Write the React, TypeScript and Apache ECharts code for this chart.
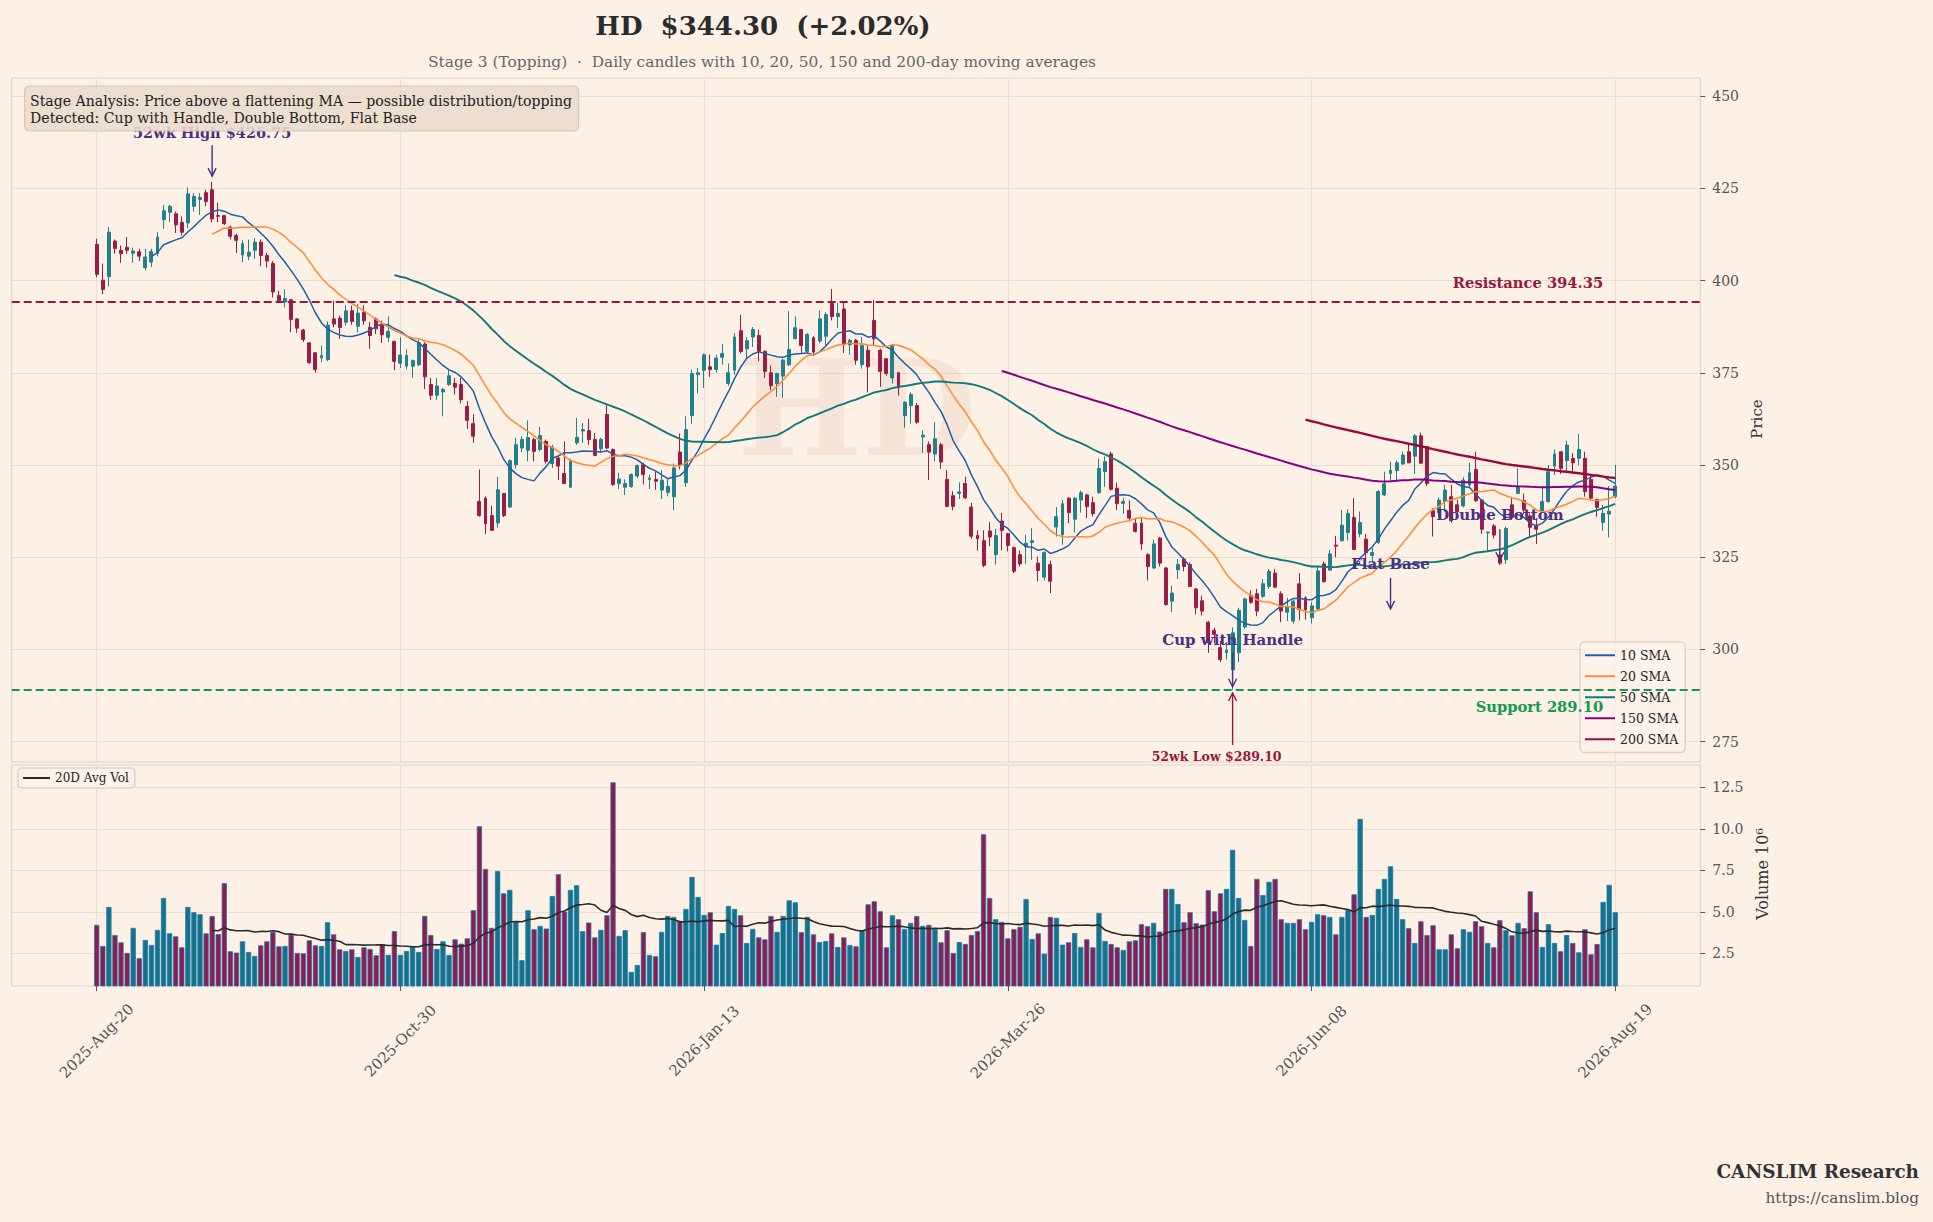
import React, { useEffect, useRef } from 'react';
import * as echarts from 'echarts';

// ---------------- DATA ----------------
const opens = [
  409.8, 400.1, 401.1, 410.7, 408.2, 409.0, 407.4, 407.8, 403.5, 405.0,
  407.3, 416.5, 418.5, 418.1, 415.8, 415.6, 420.1, 422.0, 423.8, 424.6,
  417.6, 417.6, 414.5, 412.2, 406.9, 406.6, 408.2, 410.4, 406.8, 404.6,
  395.9, 394.2, 394.8, 389.6, 386.6, 383.1, 380.4, 379.1, 378.6, 389.6,
  389.8, 388.7, 391.8, 387.6, 391.4, 387.3, 389.6, 388.2, 384.6, 383.5,
  377.6, 376.8, 376.8, 377.2, 382.8, 371.8, 368.9, 369.8, 371.8, 372.1,
  371.8, 365.9, 361.2, 340.1, 341.0, 336.3, 334.3, 342.3, 338.6, 350.1,
  354.6, 354.0, 356.9, 354.2, 356.4, 350.4, 351.9, 347.7, 344.0, 356.0,
  359.2, 359.3, 356.9, 354.4, 363.7, 354.2, 345.0, 344.0, 344.2, 347.0,
  350.1, 346.1, 346.1, 343.2, 342.6, 341.4, 353.5, 345.2, 363.4, 374.5,
  375.7, 376.6, 375.9, 379.2, 372.1, 375.7, 386.4, 381.5, 384.7, 385.1,
  380.8, 375.0, 372.1, 374.1, 377.2, 384.3, 386.7, 380.8, 384.5, 383.6,
  384.9, 393.8, 390.2, 392.3, 382.6, 383.8, 377.2, 381.1, 389.2, 381.1,
  378.8, 373.6, 375.0, 363.4, 366.1, 366.1, 357.6, 355.5, 353.0, 355.5,
  346.1, 341.7, 342.3, 345.0, 338.6, 330.9, 329.5, 332.1, 325.7, 334.8,
  331.4, 327.6, 325.7, 327.9, 329.0, 323.4, 319.6, 323.0, 333.2, 331.1,
  341.0, 335.3, 340.5, 341.9, 339.8, 342.5, 348.2, 353.0, 343.7, 339.6,
  337.7, 334.2, 334.2, 325.7, 322.1, 330.2, 322.1, 313.1, 321.6, 324.5,
  323.0, 316.4, 313.2, 307.4, 305.2, 300.5, 299.1, 294.5, 299.1, 306.1,
  314.6, 315.1, 314.4, 317.1, 320.7, 315.1, 310.1, 307.7, 317.8, 314.0,
  308.6, 311.0, 323.2, 321.5, 328.3, 329.5, 331.7, 335.8, 331.3, 329.9,
  325.5, 329.0, 341.9, 347.7, 348.5, 350.3, 353.6, 352.4, 357.9, 355.0,
  337.6, 337.0, 340.1, 341.4, 339.2, 338.9, 344.6, 348.8, 340.5, 331.6,
  333.5, 325.6, 324.3, 339.2, 342.3, 340.3, 336.2, 333.7, 337.4, 340.1,
  349.7, 353.6, 351.2, 351.8, 351.8, 351.8, 346.1, 340.7, 334.4, 336.7,
  341.4,
];

const closes = [
  401.7, 397.6, 413.1, 408.7, 407.3, 408.2, 408.0, 406.6, 406.4, 407.9,
  411.8, 418.9, 420.1, 415.1, 413.1, 423.5, 422.8, 422.5, 421.4, 416.7,
  417.4, 415.4, 412.0, 410.9, 410.0, 407.7, 410.4, 406.8, 405.3, 396.9,
  394.5, 395.1, 389.4, 387.1, 384.0, 377.7, 375.9, 379.7, 387.9, 388.2,
  387.3, 391.8, 388.9, 391.2, 389.1, 385.1, 386.9, 385.3, 386.2, 378.1,
  379.8, 379.7, 378.3, 383.1, 373.9, 368.9, 371.4, 370.5, 374.2, 371.1,
  367.7, 362.1, 357.8, 336.3, 334.1, 332.3, 343.3, 336.3, 351.2, 355.5,
  356.9, 357.4, 353.7, 358.0, 351.0, 354.9, 349.7, 345.0, 351.2, 357.5,
  359.6, 356.9, 352.6, 356.9, 354.6, 344.7, 346.2, 345.0, 347.4, 349.9,
  347.4, 346.5, 345.6, 345.9, 344.2, 349.2, 350.1, 359.6, 374.8, 375.0,
  379.9, 375.9, 379.0, 380.2, 375.0, 384.7, 380.8, 383.7, 386.7, 380.8,
  375.4, 371.5, 374.8, 378.4, 381.3, 387.2, 382.4, 385.4, 380.6, 389.6,
  390.8, 390.2, 391.1, 382.9, 383.8, 378.4, 382.4, 376.6, 384.2, 375.4,
  374.8, 382.4, 370.9, 367.0, 369.1, 361.6, 358.1, 353.5, 357.1, 350.8,
  338.8, 338.8, 342.7, 341.1, 330.7, 330.0, 322.8, 330.5, 330.9, 332.3,
  328.2, 321.2, 323.2, 328.8, 329.5, 321.4, 326.3, 318.5, 336.0, 339.5,
  337.1, 341.0, 342.5, 338.7, 336.8, 349.1, 350.9, 343.4, 339.5, 340.1,
  335.6, 332.0, 328.6, 322.5, 328.6, 323.4, 312.2, 315.3, 323.0, 322.5,
  317.1, 311.3, 310.4, 301.8, 304.1, 297.3, 299.8, 304.5, 310.6, 313.7,
  312.8, 310.4, 317.8, 321.2, 316.9, 310.4, 311.5, 313.1, 310.8, 310.8,
  311.8, 321.3, 318.4, 325.9, 328.0, 333.7, 336.9, 327.1, 334.4, 326.2,
  326.3, 342.8, 344.9, 348.6, 350.6, 352.7, 350.6, 357.9, 350.5, 345.0,
  336.0, 340.5, 343.2, 334.9, 337.4, 345.9, 347.9, 340.3, 332.6, 331.8,
  331.0, 323.4, 332.8, 335.8, 343.9, 337.8, 333.1, 332.6, 340.1, 348.2,
  353.0, 349.1, 355.4, 350.6, 354.2, 342.8, 341.0, 338.5, 336.9, 337.5,
  344.3,
];

const highs = [
  411.3, 404.6, 414.5, 411.1, 409.5, 411.8, 408.9, 408.6, 408.6, 408.6,
  413.1, 420.5, 420.5, 418.7, 417.4, 425.3, 423.7, 423.7, 424.6, 426.75,
  421.1, 417.8, 414.9, 412.7, 410.9, 411.1, 411.5, 411.1, 407.5, 405.3,
  397.2, 397.6, 395.0, 389.8, 386.9, 383.3, 380.6, 382.4, 388.9, 394.5,
  390.5, 393.3, 393.2, 393.6, 393.3, 388.7, 390.0, 389.1, 390.3, 383.7,
  384.6, 381.3, 378.6, 384.0, 383.3, 373.6, 373.6, 370.9, 375.7, 373.6,
  373.6, 367.3, 363.7, 348.8, 341.5, 339.0, 346.8, 342.4, 351.5, 357.4,
  357.8, 362.1, 357.4, 360.3, 356.9, 355.5, 352.4, 356.4, 351.7, 362.8,
  361.4, 362.5, 358.7, 357.4, 366.4, 354.5, 347.9, 346.1, 347.7, 350.1,
  350.6, 347.4, 348.3, 348.6, 346.5, 350.4, 358.5, 363.2, 375.9, 376.3,
  380.2, 379.9, 379.9, 382.8, 377.5, 385.8, 390.7, 384.7, 387.4, 386.7,
  381.1, 377.0, 375.0, 378.8, 391.7, 390.3, 386.9, 385.8, 384.9, 391.9,
  391.4, 397.7, 393.9, 394.1, 384.2, 384.2, 384.7, 382.4, 394.7, 381.5,
  379.0, 382.7, 375.2, 367.3, 369.7, 366.8, 359.4, 356.4, 361.6, 356.0,
  348.6, 342.9, 345.3, 346.8, 339.7, 332.3, 332.3, 334.5, 332.7, 337.0,
  331.6, 327.9, 326.8, 331.1, 332.9, 325.2, 326.6, 324.1, 338.6, 340.5,
  341.3, 341.3, 343.1, 342.2, 341.4, 351.8, 352.3, 353.6, 345.2, 341.0,
  340.4, 335.6, 335.6, 326.1, 329.7, 330.5, 322.3, 317.3, 324.5, 325.0,
  323.6, 316.7, 314.6, 307.7, 305.9, 302.3, 302.0, 306.0, 311.3, 314.0,
  316.0, 316.4, 319.1, 321.8, 321.8, 315.8, 314.0, 313.5, 320.7, 314.4,
  312.8, 322.6, 323.8, 327.0, 330.8, 337.8, 338.0, 341.0, 337.4, 331.3,
  327.5, 343.2, 348.2, 350.9, 351.2, 353.6, 355.9, 358.4, 358.8, 355.1,
  338.3, 341.2, 344.6, 344.6, 340.5, 346.7, 350.6, 353.6, 340.7, 331.9,
  334.0, 326.4, 333.3, 341.4, 349.1, 342.3, 336.9, 335.5, 344.3, 350.0,
  354.2, 353.6, 356.6, 353.2, 358.4, 353.6, 347.3, 340.7, 339.2, 344.3,
  350.0,
];

const lows = [
  400.9, 396.3, 398.4, 407.3, 404.8, 407.2, 404.8, 405.3, 402.8, 403.7,
  406.6, 414.0, 415.8, 412.9, 412.2, 414.2, 418.7, 417.8, 420.2, 415.8,
  415.8, 415.1, 411.1, 407.5, 405.0, 405.5, 405.9, 403.9, 403.5, 395.4,
  393.9, 392.7, 386.0, 385.8, 383.3, 377.5, 375.0, 377.9, 378.1, 387.3,
  384.2, 387.8, 388.0, 386.0, 388.0, 381.5, 385.5, 383.1, 383.3, 375.7,
  376.3, 375.9, 373.6, 376.8, 370.6, 367.6, 367.6, 363.2, 371.4, 369.1,
  366.7, 359.8, 356.0, 336.0, 331.3, 332.1, 333.0, 335.9, 338.4, 349.0,
  353.5, 351.0, 351.0, 353.7, 350.4, 349.2, 345.9, 344.8, 343.8, 355.5,
  356.0, 355.5, 352.4, 353.3, 354.3, 344.4, 343.5, 341.9, 343.8, 346.5,
  344.7, 343.5, 343.3, 340.8, 341.5, 337.7, 348.8, 344.1, 361.2, 369.4,
  370.9, 373.9, 375.0, 377.2, 371.5, 374.5, 380.2, 379.0, 382.0, 378.1,
  373.6, 370.3, 368.5, 368.2, 376.8, 384.0, 380.2, 380.2, 379.9, 383.1,
  382.4, 389.2, 387.2, 380.4, 379.9, 377.2, 376.1, 369.7, 382.4, 371.2,
  374.2, 372.1, 368.8, 360.1, 361.2, 361.2, 353.3, 345.9, 351.0, 349.0,
  338.6, 337.7, 340.8, 340.8, 330.0, 326.8, 322.3, 328.0, 323.0, 326.9,
  326.6, 320.7, 322.5, 323.2, 324.3, 318.5, 318.7, 315.3, 330.6, 328.4,
  334.2, 331.7, 337.1, 335.6, 336.0, 342.2, 344.1, 343.1, 337.8, 336.8,
  334.7, 331.7, 327.0, 318.7, 321.8, 322.5, 311.9, 310.1, 319.1, 321.2,
  316.9, 309.5, 309.2, 299.1, 301.6, 296.6, 297.3, 289.1, 296.6, 305.6,
  312.4, 309.0, 314.0, 316.4, 316.7, 307.4, 307.7, 307.0, 307.9, 308.1,
  307.0, 310.6, 318.1, 321.4, 325.0, 329.2, 329.5, 327.0, 330.4, 324.4,
  323.5, 328.6, 341.6, 345.5, 345.5, 350.0, 350.5, 347.6, 350.3, 344.3,
  330.6, 335.8, 337.4, 334.4, 335.5, 338.5, 343.7, 340.1, 331.3, 326.8,
  330.1, 322.9, 323.2, 335.1, 342.1, 336.7, 330.4, 328.6, 337.1, 339.8,
  347.3, 347.6, 348.5, 347.6, 350.0, 341.4, 340.7, 336.0, 332.2, 330.4,
  341.0,
];

// volume in millions of shares
const volumes = [
  4.21, 2.94, 5.29, 3.60, 3.16, 2.52, 4.03, 2.20, 3.30, 3.00,
  3.91, 5.83, 3.70, 3.52, 2.86, 5.29, 4.97, 4.85, 3.70, 4.75,
  3.66, 6.72, 2.62, 2.54, 3.22, 2.58, 2.34, 2.98, 3.22, 3.79,
  2.92, 2.94, 3.62, 2.52, 2.50, 3.28, 2.98, 2.94, 4.37, 3.64,
  2.74, 2.64, 2.74, 2.28, 2.86, 2.76, 2.38, 3.04, 2.40, 3.83,
  2.40, 2.64, 2.90, 2.58, 4.75, 3.60, 2.76, 3.22, 2.40, 3.34,
  3.08, 3.40, 5.09, 10.15, 7.58, 4.03, 7.46, 6.11, 6.32, 4.41,
  2.08, 5.09, 3.95, 4.15, 3.99, 5.95, 7.26, 5.01, 6.32, 6.60,
  3.83, 4.35, 3.46, 3.91, 4.79, 12.80, 3.54, 3.89, 1.38, 1.80,
  3.77, 2.40, 2.32, 3.79, 4.75, 4.69, 4.45, 5.17, 7.10, 5.89,
  4.81, 4.97, 3.02, 3.72, 5.35, 5.17, 4.79, 3.12, 3.97, 3.46,
  3.34, 4.75, 3.79, 4.75, 5.69, 5.57, 3.77, 4.69, 3.64, 3.18,
  3.24, 3.70, 2.88, 3.46, 3.00, 2.92, 3.89, 5.45, 5.63, 5.03,
  2.86, 4.79, 4.55, 3.97, 4.33, 4.75, 4.15, 4.21, 3.97, 3.16,
  3.89, 2.52, 3.18, 3.06, 3.60, 3.83, 9.67, 5.83, 4.55, 4.39,
  3.40, 3.95, 4.09, 5.77, 3.36, 3.70, 2.48, 4.69, 4.63, 3.02,
  3.16, 3.72, 2.88, 3.34, 2.86, 4.93, 3.24, 3.06, 2.86, 2.70,
  3.22, 3.28, 4.25, 4.13, 4.33, 3.81, 6.38, 6.38, 5.47, 4.37,
  4.97, 4.31, 4.23, 6.30, 5.03, 6.11, 6.38, 8.73, 5.83, 4.51,
  2.94, 6.98, 6.01, 6.80, 6.98, 4.55, 4.33, 4.33, 4.55, 3.95,
  4.39, 4.85, 4.79, 4.69, 3.64, 4.69, 5.11, 6.05, 10.59, 4.69,
  4.81, 6.38, 6.98, 7.74, 5.77, 4.55, 4.01, 3.12, 4.43, 3.60,
  4.19, 2.74, 2.74, 3.64, 2.80, 3.95, 3.79, 4.43, 4.13, 3.12,
  2.86, 4.49, 3.89, 3.58, 4.33, 4.01, 6.23, 4.97, 2.88, 4.25,
  3.12, 2.62, 3.60, 3.12, 2.56, 3.95, 2.44, 3.06, 5.59, 6.62,
  4.97,
];

const startDate = '2025-08-20';
const marketHolidays = [
  '2025-09-01', '2025-11-27', '2025-12-25', '2026-01-01', '2026-01-19',
  '2026-02-16', '2026-04-03', '2026-05-25', '2026-06-19', '2026-07-03',
];
const tickLabels = ['2025-Aug-20', '2025-Oct-30', '2026-Jan-13', '2026-Mar-26', '2026-Jun-08', '2026-Aug-19'];
const priceTicks = [275, 300, 325, 350, 375, 400, 425, 450];
const volumeTicks = [2.5, 5.0, 7.5, 10.0, 12.5];
const smaPeriods = [10, 20, 50, 150, 200];
const smaNames = ['10 SMA', '20 SMA', '50 SMA', '150 SMA', '200 SMA'];
const resistanceLevel = 394.35;
const supportLevel = 289.1;

const annotations = [
  { text: '52wk High $426.75', idx: 19, textPrice: 440.0, tailPrice: 436.7, headPrice: 428.3, dx: 0, kind: 'pattern', size: 14.5 },
  { text: '52wk Low $289.10', idx: 187, textPrice: 271.0, tailPrice: 274.1, headPrice: 288.2, dx: -16, kind: 'low', size: 12.5 },
  { text: 'Cup with Handle', idx: 187, textPrice: 302.6, tailPrice: 299.1, headPrice: 289.9, dx: 0, kind: 'pattern', size: 15 },
  { text: 'Flat Base', idx: 213, textPrice: 323.2, tailPrice: 319.4, headPrice: 311.0, dx: 0, kind: 'pattern', size: 15 },
  { text: 'Double Bottom', idx: 231, textPrice: 336.4, tailPrice: 332.6, headPrice: 324.2, dx: 0, kind: 'pattern', size: 15 },
];

// ---------------- STYLE ----------------
const SERIF = '"DejaVu Serif", "Liberation Serif", serif';
const BG = '#fdf0e5';
const GRID = '#eaddd2';
const FRAME = '#e2d2c5';
const UP = '#21808c';
const DOWN = '#9c1c48';
const VOL_UP = '#147487';
const VOL_DOWN = '#951a4a';
const VOL_EDGE = '#1f77b4';
const SMA_COLORS = ['#1f5fa8', '#ff8c33', '#12797b', '#850085', '#9b0a3e'];
const SMA_WIDTHS = [1.5, 1.5, 1.9, 2.0, 2.4];
const PURPLE = '#4a2f82';
const CRIMSON = '#99163f';
const GREEN = '#139a50';
const PAD_L = 14;
const PAD_R = 14;

// ---------------- HELPERS ----------------
const MONTHS = ['Jan', 'Feb', 'Mar', 'Apr', 'May', 'Jun', 'Jul', 'Aug', 'Sep', 'Oct', 'Nov', 'Dec'];
function tradingDays(start: string, count: number): string[] {
  const out: string[] = [];
  const d = new Date(start + 'T12:00:00Z');
  while (out.length < count) {
    const dow = d.getUTCDay();
    const iso = d.toISOString().slice(0, 10);
    if (dow !== 0 && dow !== 6 && !marketHolidays.includes(iso)) {
      out.push(`${d.getUTCFullYear()}-${MONTHS[d.getUTCMonth()]}-${String(d.getUTCDate()).padStart(2, '0')}`);
    }
    d.setUTCDate(d.getUTCDate() + 1);
  }
  return out;
}

function rollingMean(arr: number[], n: number): (number | string)[] {
  return arr.map((_, i) => {
    if (i < n - 1) return '-';
    let s = 0;
    for (let k = i - n + 1; k <= i; k++) s += arr[k];
    return +(s / n).toFixed(3);
  });
}

function pad<T>(arr: T[]): (T | string)[] {
  return [...Array(PAD_L).fill('-'), ...arr, ...Array(PAD_R).fill('-')];
}

function buildOption() {
  const n = closes.length;
  const dates = tradingDays(startDate, n);
  const categories = [
    ...Array.from({ length: PAD_L }, (_, k) => `pre${k}`),
    ...dates,
    ...Array.from({ length: PAD_R }, (_, k) => `post${k}`),
  ];
  const showTick = (idx: number) => tickLabels.includes(categories[idx]);

  const candles = pad(closes.map((c, i) => [opens[i], c, lows[i], highs[i]]));
  const volBars = pad(
    volumes.map((v, i) => ({
      value: v,
      itemStyle: { color: closes[i] >= opens[i] ? VOL_UP : VOL_DOWN },
    })),
  );
  const avgVol = pad(rollingMean(volumes, 20));

  const smaSeries = smaPeriods.map((p, k) => ({
    name: smaNames[k],
    type: 'line',
    xAxisIndex: 0,
    yAxisIndex: 0,
    data: pad(rollingMean(closes, p)),
    showSymbol: false,
    symbol: 'none',
    color: SMA_COLORS[k],
    lineStyle: { color: SMA_COLORS[k], width: SMA_WIDTHS[k] },
    z: 3,
  }));

  const gridLeft = 11.7;
  const gridWidth = 1688.6;

  const baseX = {
    type: 'category',
    data: categories,
    boundaryGap: false,
    axisLine: { show: false },
    splitLine: { show: true, interval: showTick, lineStyle: { color: GRID, width: 1.2 } },
  };

  return {
    animation: false,
    backgroundColor: BG,
    textStyle: { fontFamily: SERIF },
    grid: [
      { left: gridLeft, top: 78, width: gridWidth, height: 684, show: true, borderColor: FRAME, borderWidth: 1.2 },
      { left: gridLeft, top: 765, width: gridWidth, height: 221, show: true, borderColor: FRAME, borderWidth: 1.2 },
    ],
    xAxis: [
      { ...baseX, gridIndex: 0, axisTick: { show: false }, axisLabel: { show: false } },
      {
        ...baseX,
        gridIndex: 1,
        axisTick: { show: true, interval: showTick, length: 5, lineStyle: { color: '#555', width: 1 } },
        axisLabel: {
          show: true,
          interval: showTick,
          rotate: 45,
          align: 'center',
          verticalAlign: 'middle',
          margin: 55,
          fontSize: 15,
          color: '#555',
          fontFamily: SERIF,
        },
      },
    ],
    yAxis: [
      {
        type: 'value',
        gridIndex: 0,
        position: 'right',
        min: 269.5,
        max: 454.9,
        axisLine: { show: false },
        axisTick: { show: true, length: 5, customValues: priceTicks, lineStyle: { color: '#555' } },
        axisLabel: { customValues: priceTicks, color: '#555', fontSize: 14, margin: 12, fontFamily: SERIF },
        splitLine: { show: true, lineStyle: { color: GRID, width: 1.2 } },
      },
      {
        type: 'value',
        gridIndex: 1,
        position: 'right',
        min: 0.53,
        max: 13.84,
        axisLine: { show: false },
        axisTick: { show: true, length: 5, customValues: volumeTicks, lineStyle: { color: '#555' } },
        axisLabel: {
          customValues: volumeTicks,
          color: '#555',
          fontSize: 14,
          margin: 12,
          fontFamily: SERIF,
          formatter: (v: number) => v.toFixed(1),
        },
        splitLine: { show: true, lineStyle: { color: GRID, width: 1.2 } },
      },
    ],
    legend: [
      {
        data: smaNames,
        orient: 'vertical',
        left: 1580,
        top: 642,
        icon: 'rect',
        itemWidth: 30,
        itemHeight: 2,
        itemGap: 6.5,
        selectedMode: false,
        textStyle: { fontSize: 12.5, color: '#222', fontFamily: SERIF, lineHeight: 14.5 },
        backgroundColor: 'rgba(253,242,233,0.82)',
        borderColor: FRAME,
        borderWidth: 1.5,
        borderRadius: 4,
        padding: [6, 7, 6, 5],
      },
      {
        data: ['20D Avg Vol'],
        left: 18,
        top: 768,
        icon: 'rect',
        itemWidth: 27,
        itemHeight: 2,
        selectedMode: false,
        textStyle: { fontSize: 12, color: '#222', fontFamily: SERIF },
        backgroundColor: 'rgba(253,242,233,0.82)',
        borderColor: FRAME,
        borderWidth: 1.5,
        borderRadius: 4,
        padding: [4, 6, 4, 5],
      },
    ],
    series: [
      {
        name: 'HD',
        type: 'candlestick',
        xAxisIndex: 0,
        yAxisIndex: 0,
        data: candles,
        barWidth: '56%',
        itemStyle: { color: UP, color0: DOWN, borderColor: UP, borderColor0: DOWN, borderWidth: 1 },
        markLine: {
          silent: true,
          symbol: 'none',
          label: { show: false },
          data: [
            { yAxis: resistanceLevel, lineStyle: { color: CRIMSON, type: [8, 4], width: 1.8 } },
            { yAxis: supportLevel, lineStyle: { color: GREEN, type: [8, 4], width: 1.8 } },
          ],
        },
      },
      ...smaSeries,
      {
        name: 'Volume',
        type: 'bar',
        xAxisIndex: 1,
        yAxisIndex: 1,
        data: volBars,
        barWidth: '86%',
        itemStyle: { borderColor: VOL_EDGE, borderWidth: 0.8 },
      },
      {
        name: '20D Avg Vol',
        type: 'line',
        xAxisIndex: 1,
        yAxisIndex: 1,
        data: avgVol,
        showSymbol: false,
        symbol: 'none',
        color: '#2b2b2b',
        lineStyle: { color: '#2b2b2b', width: 1.6 },
        z: 4,
      },
    ],
  };
}

function txt(x: number, y: number, text: string, o: any = {}, extra: any = {}) {
  return {
    type: 'text',
    x,
    y,
    z: 100,
    ...extra,
    style: {
      text,
      fill: o.fill || '#222',
      fontSize: o.fontSize || 14,
      fontWeight: o.fontWeight || 'normal',
      fontFamily: o.fontFamily || SERIF,
      textAlign: o.align || 'center',
      align: o.align || 'center',
      textVerticalAlign: o.valign || 'middle',
      verticalAlign: o.valign || 'middle',
    },
  };
}

function buildGraphics(chart: any) {
  const toPx = (i: number, p: number) =>
    chart.convertToPixel({ xAxisIndex: 0, yAxisIndex: 0 }, [i + PAD_L, p]) as number[];
  const els: any[] = [];

  // watermark
  els.push({
    type: 'text',
    x: 857,
    y: 408,
    z: 1,
    silent: true,
    style: {
      text: 'HD',
      fill: 'rgba(190,150,120,0.13)',
      fontSize: 132,
      fontWeight: 'bold',
      fontFamily: SERIF,
      textAlign: 'center',
      align: 'center',
      textVerticalAlign: 'middle',
      verticalAlign: 'middle',
    },
  });

  // title + subtitle
  els.push(txt(763, 26, 'HD  $344.30  (+2.02%)', { fill: '#2b2b2b', fontSize: 26, fontWeight: 'bold' }));
  els.push(
    txt(762, 62, 'Stage 3 (Topping)  ·  Daily candles with 10, 20, 50, 150 and 200-day moving averages', {
      fill: '#666',
      fontSize: 15.4,
    }),
  );

  // pattern annotations with arrows
  annotations.forEach((a) => {
    const color = a.kind === 'low' ? CRIMSON : PURPLE;
    const [x, yText] = toPx(a.idx, a.textPrice);
    const [, y1] = toPx(a.idx, a.tailPrice);
    const [, y2] = toPx(a.idx, a.headPrice);
    const dir = y2 > y1 ? 1 : -1;
    els.push({ type: 'line', z: 100, shape: { x1: x, y1, x2: x, y2 }, style: { stroke: color, lineWidth: 1.4 } });
    els.push({
      type: 'polyline',
      z: 100,
      shape: { points: [[x - 4, y2 - 8 * dir], [x, y2], [x + 4, y2 - 8 * dir]] },
      style: { stroke: color, fill: null, lineWidth: 1.4 },
    });
    els.push(txt(x + a.dx, yText, a.text, { fill: color, fontSize: a.size, fontWeight: 'bold' }));
  });

  // support / resistance labels
  const [rx, ry] = toPx(248.4, resistanceLevel);
  els.push(txt(rx, ry - 19, `Resistance ${resistanceLevel.toFixed(2)}`, { fill: CRIMSON, fontSize: 14.7, fontWeight: 'bold', align: 'right' }));
  const [sx, sy] = toPx(248.4, supportLevel);
  els.push(txt(sx, sy + 17, `Support ${supportLevel.toFixed(2)}`, { fill: GREEN, fontSize: 14.7, fontWeight: 'bold', align: 'right' }));

  // stage analysis box
  els.push({
    type: 'rect',
    z: 110,
    shape: { x: 24.6, y: 86, width: 554, height: 45, r: 5 },
    style: { fill: 'rgba(236,219,204,0.88)', stroke: 'rgba(214,194,178,0.9)', lineWidth: 1.2 },
  });
  els.push(
    txt(30, 100.5, 'Stage Analysis: Price above a flattening MA — possible distribution/topping', { fontSize: 14.1, align: 'left', fill: '#222' }, { z: 111 }),
  );
  els.push(txt(30, 118, 'Detected: Cup with Handle, Double Bottom, Flat Base', { fontSize: 14.1, align: 'left', fill: '#222' }, { z: 111 }));

  // axis names
  els.push(txt(1757, 419, 'Price', { fill: '#333', fontSize: 15 }, { rotation: Math.PI / 2 }));
  els.push(txt(1762, 874, 'Volume 10⁶', { fill: '#333', fontSize: 16 }, { rotation: Math.PI / 2 }));

  // branding
  els.push(txt(1919, 1171, 'CANSLIM Research', { fill: '#333', fontSize: 18.4, fontWeight: 'bold', align: 'right' }));
  els.push(txt(1919, 1198, 'https://canslim.blog', { fill: '#555', fontSize: 15.3, align: 'right' }));

  return els;
}

export default function App() {
  const ref = useRef<HTMLDivElement>(null);
  useEffect(() => {
    if (!ref.current) return;
    const chart = echarts.init(ref.current, null, { renderer: 'svg' });
    chart.setOption(buildOption() as any);
    chart.setOption({ graphic: buildGraphics(chart) } as any);
    return () => chart.dispose();
  }, []);
  return (
    <div
      ref={ref}
      style={{ position: 'fixed', left: 0, top: 0, width: 1933, height: 1222, background: BG }}
    />
  );
}
